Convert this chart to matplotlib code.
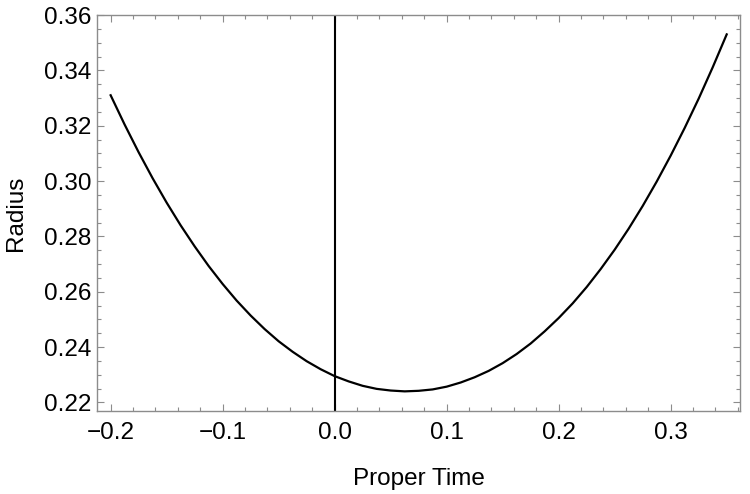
import matplotlib.pyplot as plt
from matplotlib.ticker import MultipleLocator

# radius vs proper time, estimated from the reference curve
proper_time = [-0.2000, -0.1875, -0.1750, -0.1625, -0.1500, -0.1375, -0.1250, -0.1125,
               -0.1000, -0.0875, -0.0750, -0.0625, -0.0500, -0.0375, -0.0250, -0.0125,
               0.0000, 0.0125, 0.0250, 0.0375, 0.0500, 0.0625, 0.0750, 0.0875,
               0.1000, 0.1125, 0.1250, 0.1375, 0.1500, 0.1625, 0.1750, 0.1875,
               0.2000, 0.2125, 0.2250, 0.2375, 0.2500, 0.2625, 0.2750, 0.2875,
               0.3000, 0.3125, 0.3250, 0.3375, 0.3500]
radius = [0.3310, 0.3204, 0.3104, 0.3010, 0.2922, 0.2840, 0.2764, 0.2693,
          0.2628, 0.2568, 0.2514, 0.2465, 0.2421, 0.2383, 0.2349, 0.2320,
          0.2295, 0.2276, 0.2260, 0.2249, 0.2243, 0.2240, 0.2242, 0.2247,
          0.2257, 0.2272, 0.2291, 0.2314, 0.2342, 0.2375, 0.2413, 0.2457,
          0.2505, 0.2558, 0.2617, 0.2682, 0.2752, 0.2828, 0.2910, 0.2998,
          0.3092, 0.3192, 0.3298, 0.3411, 0.3530]

xlim = (-0.2122, 0.3619)
ylim = (0.2169, 0.3600)

plt.rcParams['font.family'] = ['Liberation Sans', 'DejaVu Sans']

fig = plt.figure(figsize=(7.5, 4.94), dpi=100)
ax = fig.add_axes([0.1293, 0.168, 0.8574, 0.8016])

ax.plot(proper_time, radius, color='black', lw=1.6, solid_joinstyle='round')
ax.axvline(0, color='black', lw=1.5)

ax.set_xlim(*xlim)
ax.set_ylim(*ylim)

ax.xaxis.set_major_locator(MultipleLocator(0.1))
ax.xaxis.set_minor_locator(MultipleLocator(0.02))
ax.yaxis.set_major_locator(MultipleLocator(0.02))
ax.yaxis.set_minor_locator(MultipleLocator(0.005))
ax.xaxis.set_major_formatter(plt.FuncFormatter(lambda v, p: f"{v:.1f}".replace('-', '\u2212')))
ax.yaxis.set_major_formatter(plt.FuncFormatter(lambda v, p: f"{v:.2f}"))

frame_col = '#8c8c8c'
for s in ax.spines.values():
    s.set_color(frame_col)
    s.set_linewidth(1.0)

ax.tick_params(which='both', direction='in', top=True, right=True, color=frame_col, width=0.8)
ax.tick_params(which='major', length=5, labelsize=17.5)
ax.tick_params(which='minor', length=3)
ax.tick_params(axis='x', which='major', pad=8)
ax.tick_params(axis='y', which='major', pad=4)

ax.set_xlabel("Proper Time", fontsize=17.5, labelpad=17)
ax.set_ylabel("Radius", fontsize=17.5, labelpad=12)

fig.savefig("out.png", dpi=100)
